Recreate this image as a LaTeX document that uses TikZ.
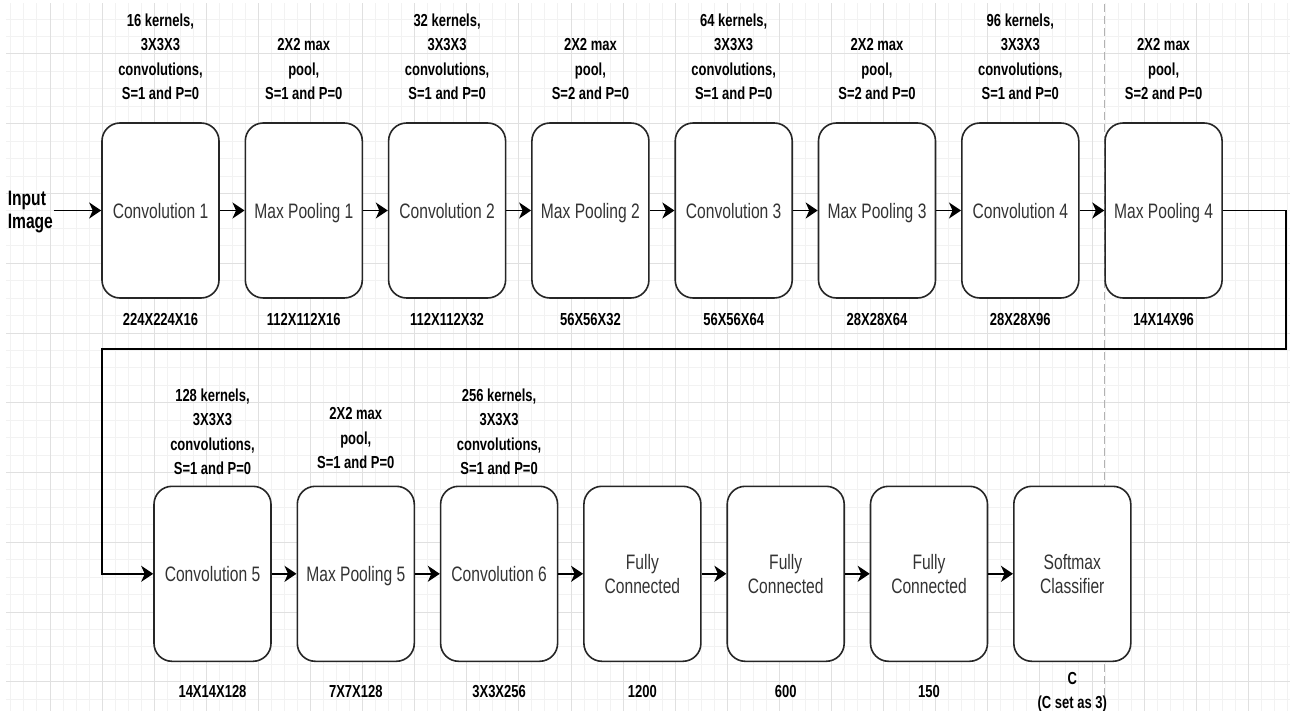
\documentclass[tikz,border=0pt]{standalone}
\usepackage{fontspec}
\usepackage{tikz}
\usetikzlibrary{arrows.meta,positioning}
\newfontfamily\drawfont[FakeStretch=0.747]{Liberation Sans}

\begin{document}
\begin{tikzpicture}[x=1pt,y=-1pt,->,>={Stealth[length=12pt,width=16pt,inset=3.5pt]},line width=1.6pt,node distance=143.3pt]
\tikzstyle{layer}=[draw=black!85,fill=white,rounded corners=18pt,minimum width=117pt,minimum height=175pt,inner sep=0pt,text depth=0pt,align=center,text=black!80,font=\drawfont\fontsize{20.9}{23.4}\selectfont]
\tikzstyle{param}=[inner sep=0pt,align=center,font=\drawfont\bfseries\fontsize{17.4}{24.4}\selectfont]
\tikzstyle{outdim}=[param]
\useasboundingbox (0,0) rectangle (1290,711);
\fill[white] (0,0) rectangle (1290,711);
\begin{scope}[-,line width=1pt,shift={(50pt,-54pt)}]
\clip (-44,657) rectangle (1240,-50);
\draw[black!5,xstep=13.025pt,ystep=17.4375pt] (-60,700) grid (1260,-60);
\draw[black!12,xstep=52.1pt,ystep=69.75pt] (-60,700) grid (1260,-60);
\end{scope}
\draw[-,black!30,line width=1pt,dash pattern=on 8pt off 4pt] (1104.5,4) -- (1104.5,711);

\node[layer] (cv1) at (160.5,210.5) {Convolution 1};
\node[layer] (mp1) [right of=cv1] {Max Pooling 1};
\node[layer] (cv2) [right of=mp1] {Convolution 2};
\node[layer] (mp2) [right of=cv2] {Max Pooling 2};
\node[layer] (cv3) [right of=mp2] {Convolution 3};
\node[layer] (mp3) [right of=cv3] {Max Pooling 3};
\node[layer] (cv4) [right of=mp3] {Convolution 4};
\node[layer] (mp4) [right of=cv4] {Max Pooling 4};
\node[layer] (cv5) at (212.5,573.8) {Convolution 5};
\node[layer] (mp5) [right of=cv5] {Max Pooling 5};
\node[layer] (cv6) [right of=mp5] {Convolution 6};
\node[layer] (fc1) [right of=cv6] {Fully\\Connected};
\node[layer] (fc2) [right of=fc1] {Fully\\Connected};
\node[layer] (fc3) [right of=fc2] {Fully\\Connected};
\node[layer] (soft) [right of=fc3] {Softmax\\Classifier};

\node[param] (cv1p) [above=21.5pt of cv1] {16 kernels,\\3X3X3\\convolutions,\\S=1 and P=0};
\node[param] (mp1p) [above=21.5pt of mp1] {2X2 max\\pool,\\S=1 and P=0};
\node[param] (cv2p) [above=21.5pt of cv2] {32 kernels,\\3X3X3\\convolutions,\\S=1 and P=0};
\node[param] (mp2p) [above=21.5pt of mp2] {2X2 max\\pool,\\S=2 and P=0};
\node[param] (cv3p) [above=21.5pt of cv3] {64 kernels,\\3X3X3\\convolutions,\\S=1 and P=0};
\node[param] (mp3p) [above=21.5pt of mp3] {2X2 max\\pool,\\S=2 and P=0};
\node[param] (cv4p) [above=21.5pt of cv4] {96 kernels,\\3X3X3\\convolutions,\\S=1 and P=0};
\node[param] (mp4p) [above=21.5pt of mp4] {2X2 max\\pool,\\S=2 and P=0};
\node[param] (cv5p) [above=10pt of cv5] {128 kernels,\\3X3X3\\convolutions,\\S=1 and P=0};
\node[param] (mp5p) [above=15.8pt of mp5] {2X2 max\\pool,\\S=1 and P=0};
\node[param] (cv6p) [above=10pt of cv6] {256 kernels,\\3X3X3\\convolutions,\\S=1 and P=0};

\node[outdim] (cv1o) [below=14pt of cv1] {224X224X16};
\node[outdim] (mp1o) [below=14pt of mp1] {112X112X16};
\node[outdim] (cv2o) [below=14pt of cv2] {112X112X32};
\node[outdim] (mp2o) [below=14pt of mp2] {56X56X32};
\node[outdim] (cv3o) [below=14pt of cv3] {56X56X64};
\node[outdim] (mp3o) [below=14pt of mp3] {28X28X64};
\node[outdim] (cv4o) [below=14pt of cv4] {28X28X96};
\node[outdim] (mp4o) [below=14pt of mp4] {14X14X96};
\node[outdim] (cv5o) [below=22.5pt of cv5] {14X14X128};
\node[outdim] (mp5o) [below=22.5pt of mp5] {7X7X128};
\node[outdim] (cv6o) [below=22.5pt of cv6] {3X3X256};
\node[outdim] (fc1o) [below=22.5pt of fc1] {1200};
\node[outdim] (fc2o) [below=22.5pt of fc2] {600};
\node[outdim] (fc3o) [below=22.5pt of fc3] {150};
\node[outdim] (softo) [below=9.2pt of soft] {C\\(C set as 3)};

\node[inner sep=0pt,align=left,anchor=west,font=\drawfont\bfseries\fontsize{20.9}{23}\selectfont] (inp) at (7,212.5) {Input\\Image};
\draw (inp.east |- cv1.west) -- (cv1.west);
\path (cv1) edge (mp1) (mp1) edge (cv2) (cv2) edge (mp2) (mp2) edge (cv3)
(cv3) edge (mp3) (mp3) edge (cv4) (cv4) edge (mp4);
\coordinate (wrapR) at (1286,349);
\coordinate (wrapL) at (102,349);
\draw (mp4.east) -| (wrapR) -- (wrapL) |- (cv5.west);
\path (cv5) edge (mp5) (mp5) edge (cv6) (cv6) edge (fc1) (fc1) edge (fc2)
(fc2) edge (fc3) (fc3) edge (soft);
\end{tikzpicture}
\end{document}
